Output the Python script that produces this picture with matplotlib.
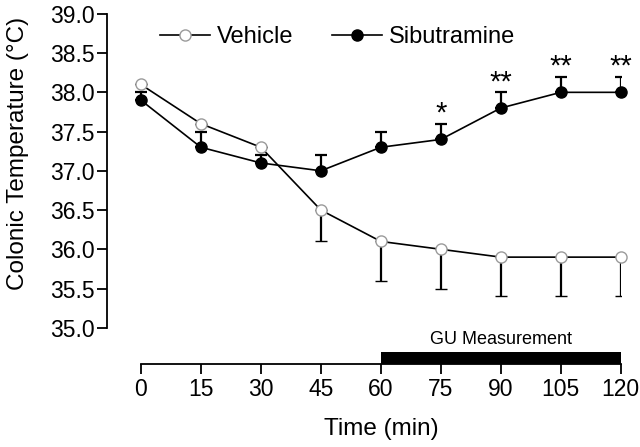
"""Colonic temperature over time, vehicle vs sibutramine."""

import matplotlib
matplotlib.use("Agg")
import matplotlib.pyplot as plt
from matplotlib.lines import Line2D

plt.rcParams["font.family"] = ["Liberation Sans", "DejaVu Sans"]

time_min = [0, 15, 30, 45, 60, 75, 90, 105, 120]
vehicle = [38.1, 37.6, 37.3, 36.5, 36.1, 36.0, 35.9, 35.9, 35.9]
vehicle_err = [0.0, 0.0, 0.0, 0.4, 0.5, 0.5, 0.5, 0.5, 0.5]
sibutramine = [37.9, 37.3, 37.1, 37.0, 37.3, 37.4, 37.8, 38.0, 38.0]
sibutramine_err = [0.1, 0.2, 0.1, 0.2, 0.2, 0.2, 0.2, 0.2, 0.2]
sig_marks = {75: "*", 90: "**", 105: "**", 120: "**"}
y_ticks = [35.0, 35.5, 36.0, 36.5, 37.0, 37.5, 38.0, 38.5, 39.0]
gu_start, gu_end = 60, 120

VEH_STYLE = dict(color="black", lw=1.2, marker="o", ms=8, mfc="white",
                 mec="#9a9a9a", mew=1.0)
SIB_STYLE = dict(color="black", lw=1.2, marker="o", ms=8, mfc="black",
                 mec="black")


def main():
    fig = plt.figure(figsize=(6.4, 4.47), dpi=100)
    ax = fig.add_axes([0.167, 0.186, 0.803, 0.783])

    zero = [0] * len(time_min)
    veh = ax.errorbar(time_min, vehicle, yerr=[vehicle_err, zero],
                      elinewidth=1.6, capsize=4, capthick=1.6, zorder=3,
                      **VEH_STYLE)
    sib = ax.errorbar(time_min, sibutramine, yerr=[zero, sibutramine_err],
                      elinewidth=1.6, capsize=4, capthick=1.6, zorder=4,
                      **SIB_STYLE)
    veh[0].set_clip_on(False)
    sib[0].set_clip_on(False)

    for t, mark in sig_marks.items():
        i = time_min.index(t)
        ax.text(t, sibutramine[i] + sibutramine_err[i] - 0.05, mark,
                ha="center", va="bottom", fontsize=21)

    ax.set_xlim(-8.5, 120)
    ax.set_ylim(34.54, 39.0)

    # GU measurement bar sitting on the time axis
    ax.fill_between([gu_start, gu_end], 34.54, 34.695, color="black",
                    lw=0, clip_on=False)
    ax.text((gu_start + gu_end) / 2, 34.85, "GU Measurement",
            ha="center", va="center", fontsize=13)

    ax.spines["top"].set_visible(False)
    ax.spines["right"].set_visible(False)
    ax.spines["left"].set_bounds(35.0, 39.0)
    ax.spines["bottom"].set_bounds(0, 120)
    for s in ("left", "bottom"):
        ax.spines[s].set_linewidth(1.3)

    ax.set_yticks(y_ticks)
    ax.set_yticklabels([f"{v:.1f}" for v in y_ticks])
    ax.set_xticks(time_min)
    ax.tick_params(direction="out", length=7, width=1.3, labelsize=16.5)
    ax.tick_params(axis="y", pad=2)
    ax.tick_params(axis="x", pad=3)

    ax.set_xlabel("Time (min)", fontsize=17.5)
    ax.xaxis.set_label_coords(0.5 + 0.5 * 8.5 / 128.5, -0.155)
    ax.set_ylabel("Colonic Temperature (\u00b0C)", fontsize=17.5)
    ax.yaxis.set_label_coords(-0.152, 0.6)

    handles = [Line2D([], [], **VEH_STYLE), Line2D([], [], **SIB_STYLE)]
    ax.legend(handles, ["Vehicle", "Sibutramine"], loc="center left",
              bbox_to_anchor=(0.25, 0.917), bbox_transform=fig.transFigure,
              ncol=2, frameon=False, fontsize=17, handlelength=2.1,
              handletextpad=0.3, columnspacing=1.65, borderpad=0,
              borderaxespad=0)

    fig.savefig("out.png", dpi=100)


if __name__ == "__main__":
    main()
